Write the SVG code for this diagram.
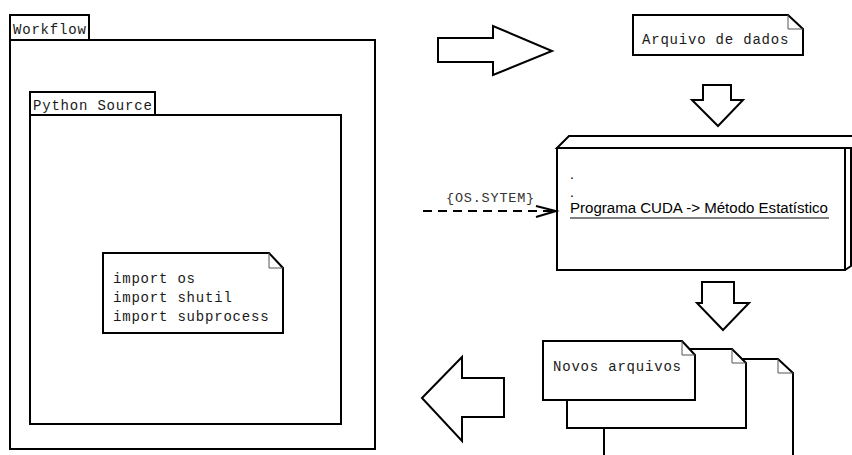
<svg xmlns="http://www.w3.org/2000/svg" width="852" height="455" viewBox="0 0 852 455">
  <style>
    .box { fill: #fff; stroke: #000; stroke-width: 2; stroke-linejoin: miter; }
    .fold { fill: none; stroke: #555; stroke-width: 1; }
    .line { fill: none; stroke: #000; stroke-width: 2; }
    .mono { font-family: "Liberation Mono", "Courier New", monospace; font-size: 14px; letter-spacing: 0.8px; fill: #1a1a1a; }
    .small { font-size: 13.5px; letter-spacing: 0.8px; fill: #333; }
    .sans { font-family: "Liberation Sans", Arial, sans-serif; font-size: 14px; fill: #000; }
  </style>
  <rect width="852" height="455" fill="#fff"/>

  <!-- Workflow package -->
  <g id="workflow">
    <rect class="box" x="10" y="15" width="79" height="25"/>
    <rect class="box" x="10" y="40" width="365" height="409"/>
    <text class="mono" x="13" y="34">Workflow</text>
  </g>

  <!-- Python Source package -->
  <g id="python-source">
    <rect class="box" x="30" y="92" width="125" height="23"/>
    <rect class="box" x="30" y="115" width="311" height="309"/>
    <text class="mono" x="33" y="110">Python Source</text>
  </g>

  <!-- Imports note -->
  <g id="imports-note">
    <path class="box" d="M103,253 H269 L283,268 V333 H103 Z"/>
    <path class="fold" d="M269,253 V268 H283"/>
    <text class="mono" x="113" y="283">import os</text>
    <text class="mono" x="113" y="302">import shutil</text>
    <text class="mono" x="113" y="321">import subprocess</text>
  </g>

  <!-- Input data note -->
  <g id="arquivo-de-dados">
    <path class="box" d="M633,15 H788 L803,29 V55 H633 Z"/>
    <path class="fold" d="M788,15 V29 H803"/>
    <text class="mono" x="642" y="44">Arquivo de dados</text>
  </g>

  <!-- CUDA program node -->
  <g id="programa-cuda">
    <path class="box" d="M557,148 L569,136 H860 V148 Z"/>
    <rect class="box" x="557" y="148" width="288" height="122"/>
    <path class="line" d="M851,148 V266 L845,270"/>
    <text class="sans" x="570" y="179">.</text>
    <text class="sans" x="570" y="197">.</text>
    <text class="sans" x="570" y="213" textLength="258" lengthAdjust="spacingAndGlyphs">Programa CUDA -&gt; Método Estatístico</text>
    <line x1="570" y1="218" x2="829" y2="218" stroke="#000" stroke-width="1"/>
  </g>

  <!-- Output files stack -->
  <g id="novos-arquivos">
    <path class="box" d="M604,458 V359 H778 L793,373 V458"/>
    <path class="fold" d="M778,359 V373 H793"/>
    <path class="box" d="M567,349 H732 L746,363 V428 H567 Z"/>
    <path class="fold" d="M732,349 V363 H746"/>
    <path class="box" d="M543,341 H682 L695,355 V400 H543 Z"/>
    <path class="fold" d="M682,341 V355 H695"/>
    <text class="mono" x="553" y="371">Novos arquivos</text>
  </g>

  <!-- Flow arrows and call dependency -->
  <g id="connectors">
    <path class="box" d="M438,38 H493 V26 L552,51 L493,75 V62 H438 Z"/>
    <path class="box" d="M703,85 H731 V100 H743 L718,126 L692,100 H703 Z"/>
    <path class="box" d="M702,282 H734 V303 H749 L723,330 L697,303 H702 Z"/>
    <path class="box" d="M422,398 L462,357 V378 H504 V417 H462 V441 Z"/>
    <line class="line" x1="423" y1="211" x2="555" y2="211" stroke-dasharray="9,6"/>
    <polyline class="line" points="536,206 556,211 536,217"/>
    <text class="mono small" x="446" y="202">{OS.SYTEM}</text>
  </g>
</svg>
